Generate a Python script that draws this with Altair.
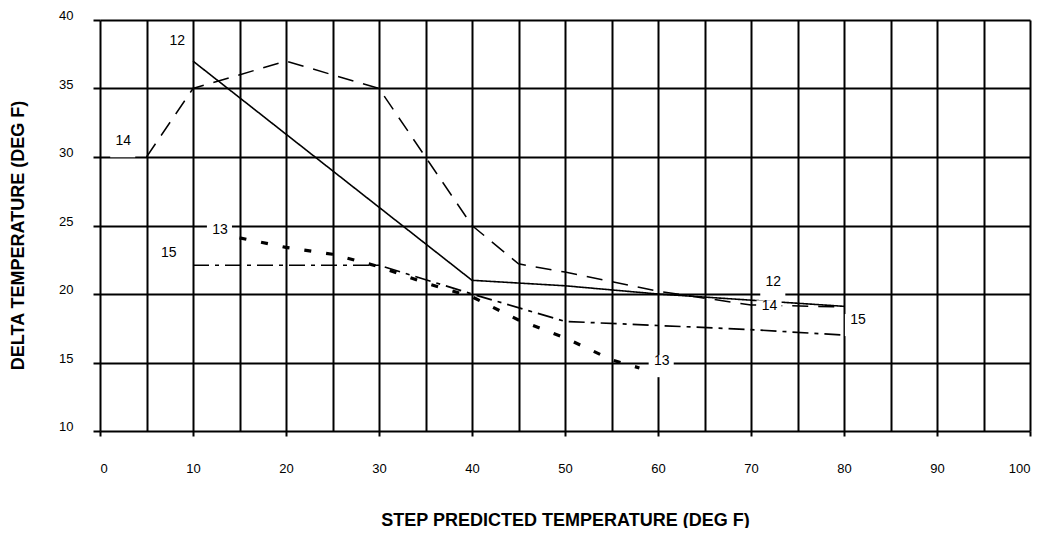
import altair as alt
import pandas as pd

# ---- data ----
x12 = [10, 40, 50, 60, 70, 80]
y12 = [37.0, 21.0, 20.6, 20.0, 19.55, 19.1]

x13 = [15, 20, 25, 30, 35, 40, 45, 50, 55, 58]
y13 = [24.1, 23.4, 22.9, 22.0, 20.8, 19.8, 18.1, 16.8, 15.2, 14.6]

x14 = [5, 10, 20, 30, 40, 45, 50, 60, 70, 80]
y14 = [30.0, 35.0, 37.0, 35.0, 25.0, 22.2, 21.6, 20.2, 19.2, 19.05]

x15 = [10, 20, 30, 40, 50, 60, 70, 80]
y15 = [22.1, 22.1, 22.1, 20.0, 18.0, 17.7, 17.4, 17.0]

label_text = ["12", "14", "13", "15", "12", "14", "15", "13"]
label_x = [8.3, 2.5, 12.9, 7.4, 72.4, 72.0, 81.5, 60.4]
label_y = [38.5, 31.15, 24.65, 23.0, 20.85, 19.1, 18.1, 15.1]

x_ticks = list(range(0, 101, 5))
y_ticks = list(range(10, 41, 5))

FONT = "Liberation Sans"

x_axis = alt.Axis(
    values=x_ticks,
    grid=True, gridColor="black", gridWidth=2, gridOpacity=1,
    domain=False,
    tickColor="black", tickWidth=2, tickSize=5,
    tickOpacity={"condition": {"test": "datum.value % 10 === 0", "value": 1}, "value": 0},
    labelExpr="datum.value % 10 === 0 ? datum.label : ''",
    labelFont=FONT, labelFontSize=13, labelColor="black",
    labelBaseline="alphabetic", labelPadding=36,
    titleFont=FONT, titleFontSize=18, titleFontWeight="bold", titleColor="black",
    titleBaseline="alphabetic", titleY=94,
)
y_axis = alt.Axis(
    values=y_ticks,
    grid=True, gridColor="black", gridWidth=2, gridOpacity=1,
    domain=False,
    tickColor="black", tickWidth=2, tickSize=7,
    labelFont=FONT, labelFontSize=13, labelColor="black",
    labelBaseline="alphabetic", labelOffset=-0.5, labelPadding=20,
    titleFont=FONT, titleFontSize=18, titleFontWeight="bold", titleColor="black",
    titleBaseline="middle", titleAngle=270, titleX=-82, titleY=215,
)

x_enc = alt.X("x:Q", scale=alt.Scale(domain=[0, 100], nice=False, zero=False),
              axis=x_axis, title="STEP PREDICTED TEMPERATURE (DEG F)")
y_enc = alt.Y("y:Q", scale=alt.Scale(domain=[10, 40], nice=False, zero=False),
              axis=y_axis, title="DELTA TEMPERATURE (DEG F)")


def series_layer(xs, ys, width, dash):
    d = pd.DataFrame({"x": xs, "y": ys, "order": list(range(len(xs)))})
    return alt.Chart(d).mark_line(
        color="black", strokeWidth=width, strokeDash=dash, strokeCap="butt"
    ).encode(x=x_enc, y=y_enc, order="order:Q")


l12 = series_layer(x12, y12, 1.6, [1, 0])
l13 = series_layer(x13, y13, 3.2, [7, 15])
l14 = series_layer(x14, y14, 1.5, [16, 10])
l15 = series_layer(x15, y15, 1.7, [16, 6, 4, 6])

lab = pd.DataFrame({"label": label_text, "x": label_x, "y": label_y})

boxes = alt.Chart(lab).mark_point(
    shape="M-0.87,-0.4H0.8V1.07H-0.87Z", size=900, filled=True,
    color="white", opacity=1, strokeWidth=0,
).encode(x=x_enc, y=y_enc)

texts = alt.Chart(lab).mark_text(
    font=FONT, fontSize=14, color="black", baseline="middle", align="center"
).encode(x=x_enc, y=y_enc, text="label:N")

chart = alt.layer(l12, l13, l14, l15, boxes, texts).properties(
    width=930, height=411,
    autosize=alt.AutoSizeParams(type="none"),
    padding={"left": 92, "top": 12, "right": 11, "bottom": 97},
    background="white",
).configure_view(stroke="transparent")

chart.save("out.html", embed_options={"renderer": "svg", "actions": False})
